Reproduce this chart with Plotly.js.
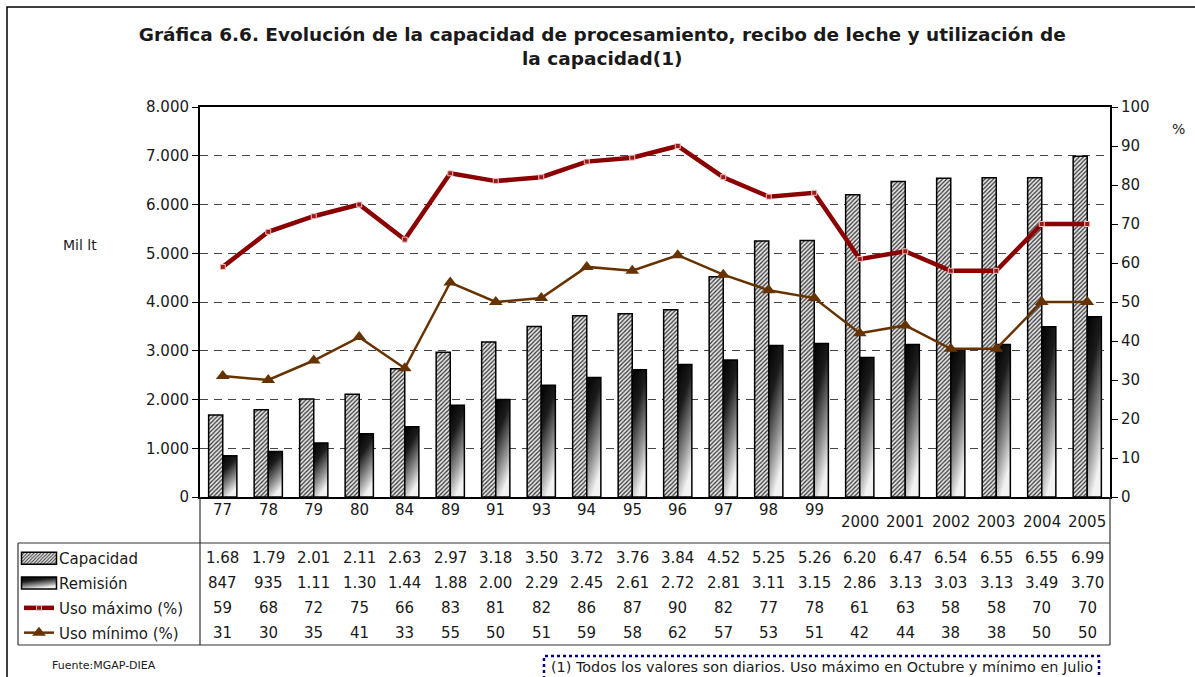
<!DOCTYPE html>
<html>
<head>
<meta charset="utf-8">
<script src="https://cdn.plot.ly/plotly-3.0.1.min.js"></script>
<style>
html,body{margin:0;padding:0;background:#fff;}
#chart{width:1195px;height:677px;}
</style>
</head>
<body>
<div id="chart"></div>
<script>
// ---- data ----
const categories = ['77','78','79','80','84','89','91','93','94','95','96','97','98','99','2000','2001','2002','2003','2004','2005'];
const capacidad = [1680,1790,2010,2110,2630,2970,3180,3500,3720,3760,3840,4520,5250,5260,6200,6470,6540,6550,6550,6990];
const remision  = [847,935,1110,1300,1440,1880,2000,2290,2450,2610,2720,2810,3110,3150,2860,3130,3030,3130,3490,3700];
const usoMaximo = [59,68,72,75,66,83,81,82,86,87,90,82,77,78,61,63,58,58,70,70];
const usoMinimo = [31,30,35,41,33,55,50,51,59,58,62,57,53,51,42,44,38,38,50,50];
const seriesNames = ['Capacidad','Remisión','Uso máximo (%)','Uso mínimo (%)'];

const FONT = 'DejaVu Sans, Verdana, sans-serif';
const TXT = '#1a1a1a';

// table display strings derived from the values
function fmtMil(v){ return v < 1000 ? String(v) : (v/1000).toFixed(2); }
const tableRows = [
  capacidad.map(fmtMil),
  remision.map(fmtMil),
  usoMaximo.map(String),
  usoMinimo.map(String)
];

// pixel helpers for the paper coordinate system (plot area 200..1110 x 107..497)
const PL=200, PR=1110, PT=107, PB=497;
const px = x => (x-PL)/(PR-PL);
const py = y => (PB-y)/(PB-PT);

const traces = [
  {type:'bar', name:seriesNames[0], x:categories, y:capacidad, legendgroup:'a',
   marker:{color:'#ffffff', pattern:{shape:'/', fgcolor:'#333', bgcolor:'#e6e6e6', size:3, solidity:0.4},
           line:{color:'#000', width:1.5}}, hoverinfo:'x+y'},
  {type:'bar', name:seriesNames[1], x:categories, y:remision, legendgroup:'b',
   marker:{color:'#333333', line:{color:'#000', width:1.5}}, hoverinfo:'x+y'},
  {type:'scatter', mode:'lines+markers', name:seriesNames[2], x:categories, y:usoMaximo, yaxis:'y2', legendgroup:'c',
   line:{color:'#8B0000', width:4.5},
   marker:{symbol:'square', size:5, color:'#9a1a1a', line:{color:'#f2c4c4', width:1}}},
  {type:'scatter', mode:'lines+markers', name:seriesNames[3], x:categories, y:usoMinimo, yaxis:'y2', legendgroup:'d',
   line:{color:'#663300', width:2.5},
   marker:{symbol:'triangle-up', size:12, color:'#663300'}}
];

const annotations = [];
// category labels (x given as category index)
categories.forEach((c,i)=>{
  const late = c.length === 4;
  annotations.push({x:i, xref:'x', y:py(late?522:510), yref:'paper', text:c, showarrow:false,
    xanchor:'center', yanchor:'middle', font:{family:FONT, size:15, color:TXT}});
});
// table values
const rowY = [558,583,608,633];
tableRows.forEach((row,r)=>{
  row.forEach((t,i)=>{
    annotations.push({x:i, xref:'x', y:py(rowY[r]), yref:'paper', text:t, showarrow:false,
      xanchor:'center', yanchor:'middle', font:{family:FONT, size:15, color:TXT}});
  });
});
annotations.push({x:px(80), xref:'paper', y:py(245), yref:'paper', text:'Mil lt', showarrow:false,
  xanchor:'center', yanchor:'middle', font:{family:FONT, size:14, color:TXT}});
annotations.push({x:px(1178), xref:'paper', y:py(129), yref:'paper', text:'%', showarrow:false,
  xanchor:'center', yanchor:'middle', font:{family:FONT, size:14, color:TXT}});
annotations.push({x:px(50), xref:'paper', y:py(665), yref:'paper', text:'Fuente:MGAP-DIEA', showarrow:false,
  xanchor:'left', yanchor:'middle', font:{family:FONT, size:11, color:TXT}});
annotations.push({x:px(549), xref:'paper', y:py(667), yref:'paper',
  text:'(1) Todos los valores son diarios. Uso máximo en Octubre y mínimo en Julio', showarrow:false,
  xanchor:'left', yanchor:'middle', font:{family:FONT, size:14.4, color:TXT}});

const shapes = [
  // outer frame
  {type:'rect', xref:'paper', yref:'paper', x0:px(7), x1:px(1205), y0:py(690), y1:py(7), line:{color:'#000', width:1.5}},
  // table frame
  {type:'line', xref:'paper', yref:'paper', x0:px(18), x1:px(1110), y0:py(543), y1:py(543), line:{color:'#333', width:1.2}},
  {type:'line', xref:'paper', yref:'paper', x0:px(18), x1:px(1110), y0:py(645), y1:py(645), line:{color:'#333', width:1.2}},
  {type:'line', xref:'paper', yref:'paper', x0:px(18), x1:px(18), y0:py(543), y1:py(645), line:{color:'#333', width:1.2}},
  {type:'line', xref:'paper', yref:'paper', x0:0, x1:0, y0:0, y1:py(645), line:{color:'#333', width:1.2}},
  {type:'line', xref:'paper', yref:'paper', x0:1, x1:1, y0:0, y1:py(645), line:{color:'#333', width:1.2}},
  // footnote dotted box
  {type:'rect', xref:'paper', yref:'paper', x0:px(544), x1:px(1099), y0:py(690), y1:py(656), line:{color:'#000080', width:2.5, dash:'dot'}}
];

const layout = {
  width:1195, height:677,
  margin:{l:PL, r:1195-PR, t:PT, b:677-PB, autoexpand:false},
  paper_bgcolor:'#fff', plot_bgcolor:'#fff',
  separators:',.',
  font:{family:FONT, size:14, color:TXT},
  title:{text:'<b>Gráfica 6.6. Evolución de la capacidad de procesamiento, recibo de leche y utilización de<br>la capacidad(1)</b>',
         x:0.504, xanchor:'center', y:1-41/677, yanchor:'middle', font:{family:FONT, size:18.5, color:TXT}},
  barmode:'group', bargap:0.38, bargroupgap:0,
  showlegend:true,
  legend:{x:px(19), xanchor:'left', y:py(542), yanchor:'top', bgcolor:'rgba(0,0,0,0)',
          font:{family:FONT, size:15, color:TXT}, tracegroupgap:2.3, traceorder:'grouped', itemwidth:30},
  xaxis:{type:'category', range:[-0.5, categories.length-0.5], autorange:false,
         showticklabels:false, ticks:'', showline:true, mirror:true, linecolor:'#000', linewidth:2,
         showgrid:false, zeroline:false, fixedrange:true},
  yaxis:{range:[0,8000], dtick:1000, tickformat:',d', ticks:'outside', ticklen:6, tickcolor:'#000', tickwidth:1,
         showline:true, linecolor:'#000', linewidth:2, showgrid:true, gridcolor:'#444', griddash:'8px,6px', gridwidth:1,
         zeroline:false, tickfont:{family:FONT, size:15, color:TXT}, fixedrange:true},
  yaxis2:{range:[0,100], dtick:10, overlaying:'y', side:'right', ticks:'outside', ticklen:6, tickcolor:'#000',
          showline:true, linecolor:'#000', linewidth:2, showgrid:false, zeroline:false,
          tickfont:{family:FONT, size:15, color:TXT}, fixedrange:true},
  annotations:annotations,
  shapes:shapes
};

const gd = document.getElementById('chart');

function applyGradient(){
  const svg = gd.querySelector('svg.main-svg');
  if(!svg) return;
  let defs = svg.querySelector('defs');
  if(!defs){ defs = document.createElementNS('http://www.w3.org/2000/svg','defs'); svg.insertBefore(defs, svg.firstChild); }
  if(!svg.querySelector('#remGrad')){
    const ns='http://www.w3.org/2000/svg';
    const g = document.createElementNS(ns,'linearGradient');
    g.setAttribute('id','remGrad');
    g.setAttribute('x1','0'); g.setAttribute('y1','0'); g.setAttribute('x2','0.35'); g.setAttribute('y2','1');
    [['0','#000000'],['0.35','#1c1c1c'],['0.75','#9a9a9a'],['1','#f2f2f2']].forEach(s=>{
      const st=document.createElementNS(ns,'stop'); st.setAttribute('offset',s[0]); st.setAttribute('stop-color',s[1]); g.appendChild(st);
    });
    defs.appendChild(g);
  }
  const barTraces = gd.querySelectorAll('.barlayer .trace');
  if(barTraces[1]) barTraces[1].querySelectorAll('path').forEach(p=>{ p.style.fill='url(#remGrad)'; });
  const legTraces = gd.querySelectorAll('.legend .traces');
  legTraces.forEach((lt,k)=>{
    if(k>1) return;
    lt.querySelectorAll('.legendpoints path').forEach(p=>{
      p.setAttribute('d','M-17.5,6H17.5V-6H-17.5Z');
      if(k===1) p.style.fill='url(#remGrad)';
    });
  });
}

Plotly.newPlot(gd, traces, layout, {displayModeBar:false, staticPlot:true}).then(()=>{
  applyGradient();
  gd.on('plotly_afterplot', applyGradient);
});
</script>
</body>
</html>
